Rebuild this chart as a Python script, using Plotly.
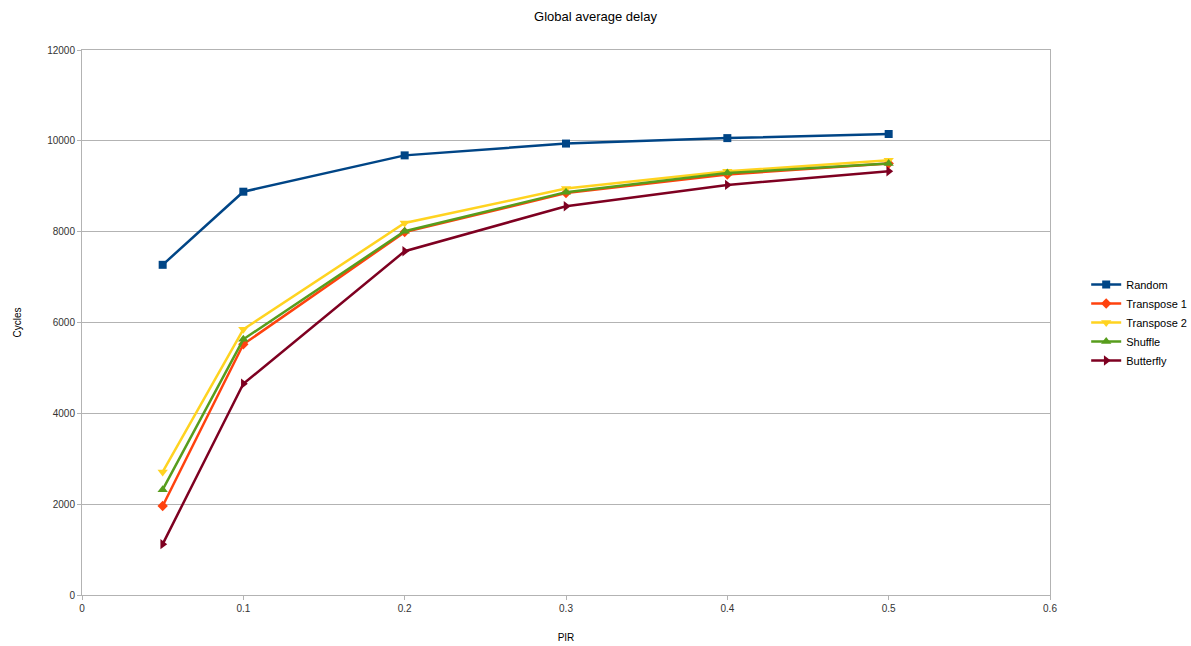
import plotly.graph_objects as go

# PIR sample points
pir = [0.05, 0.1, 0.2, 0.3, 0.4, 0.5]

# Global average delay (cycles) per traffic pattern
random_delay = [7270, 8880, 9680, 9940, 10060, 10150]
transpose1_delay = [1960, 5520, 7990, 8850, 9260, 9500]
transpose2_delay = [2710, 5850, 8190, 8950, 9330, 9570]
shuffle_delay = [2320, 5630, 8010, 8870, 9290, 9500]
butterfly_delay = [1120, 4650, 7570, 8560, 9030, 9330]

x_tick_values = [0, 0.1, 0.2, 0.3, 0.4, 0.5, 0.6]
x_tick_labels = ["0", "0.1", "0.2", "0.3", "0.4", "0.5", "0.6"]

series = [
    ("Random", random_delay, "#004586", "square", 8),
    ("Transpose 1", transpose1_delay, "#ff420e", "diamond", 8),
    ("Transpose 2", transpose2_delay, "#ffd320", "triangle-down", 9),
    ("Shuffle", shuffle_delay, "#579d1c", "triangle-up", 9),
    ("Butterfly", butterfly_delay, "#7e0021", "triangle-right", 9),
]

fig = go.Figure()
for name, values, color, symbol, size in series:
    fig.add_trace(go.Scatter(
        x=pir, y=values, name=name, mode="lines+markers",
        line=dict(color=color, width=2.5),
        marker=dict(color=color, symbol=symbol, size=size),
    ))

axis_color = "#b3b3b3"
fig.update_layout(
    width=1191, height=646,
    margin=dict(l=82, r=141, t=50, b=51, autoexpand=False),
    paper_bgcolor="white", plot_bgcolor="white",
    font=dict(family="Liberation Sans, Arial, sans-serif", size=10, color="#333333"),
    title=dict(text="Global average delay", x=0.5, xref="container", xanchor="center",
               y=0.974, yanchor="middle", font=dict(size=13, color="#000000")),
    xaxis=dict(
        range=[0, 0.6], tickvals=x_tick_values, ticktext=x_tick_labels,
        showgrid=False, zeroline=False, automargin=False,
        showline=True, linecolor=axis_color, linewidth=1, mirror=True,
        ticks="outside", ticklen=4, tickcolor=axis_color,
        title=dict(text="PIR", font=dict(size=10, color="#000000"), standoff=20),
    ),
    yaxis=dict(
        range=[0, 12000], dtick=2000, tickformat="d",
        showgrid=True, gridcolor=axis_color, gridwidth=1, zeroline=False, automargin=False,
        showline=True, linecolor=axis_color, linewidth=1, mirror=True,
        ticks="outside", ticklen=4, tickcolor=axis_color,
        title=dict(text="Cycles", font=dict(size=10, color="#000000"), standoff=23),
    ),
    legend=dict(
        xref="container", x=0.912, y=0.5, xanchor="left", yanchor="middle",
        font=dict(size=11, color="#000000"),
        tracegroupgap=0, itemwidth=30,
    ),
)

fig.write_html("out.html")
